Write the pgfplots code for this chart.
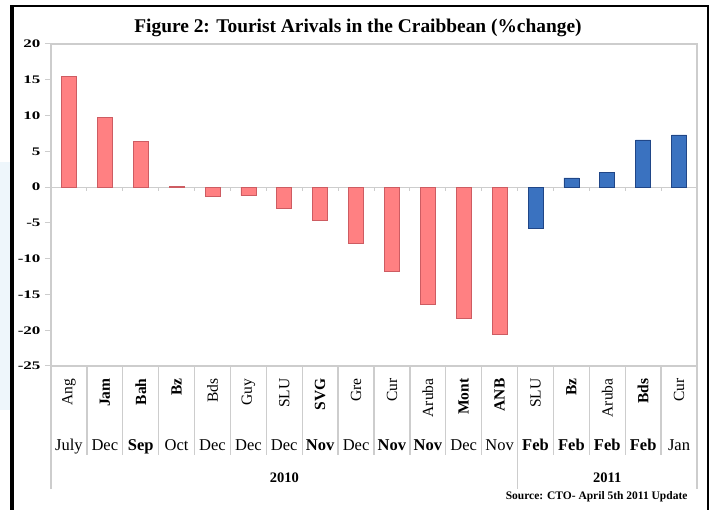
\documentclass[border=0pt]{standalone}
\usepackage{pgfplots}
\pgfplotsset{compat=1.18}
\usepackage{fontspec}
\setmainfont{Liberation Serif}
\definecolor{redfill}{RGB}{255,128,130}
\definecolor{reddraw}{RGB}{205,92,98}
\definecolor{bluefill}{RGB}{58,114,192}
\definecolor{bluedraw}{RGB}{32,70,135}
\definecolor{sepgray}{RGB}{205,205,205}
\definecolor{tint}{RGB}{238,246,251}
\begin{document}
\begin{tikzpicture}
\useasboundingbox (0pt,0pt) rectangle (710pt,510pt);
\fill[tint] (0pt,100pt) rectangle (10pt,348pt);
\fill[black] (10pt,0pt) rectangle (14pt,505pt);
\draw[black, line width=2pt] (11pt,504pt) -- (708pt,504pt) -- (708pt,0pt);
\node[anchor=base, font=\fontsize{19.4}{22}\selectfont\bfseries] at (358pt,477pt) {Figure 2: Tourist Arivals in the Craibbean (\%change)};
\node[anchor=base east, font=\fontsize{11.5}{13}\selectfont\bfseries] at (691pt,10pt) {Source: CTO- April 5th 2011 Update};
\begin{axis}[
  at={(51pt,144pt)}, anchor=south west, scale only axis,
  width=646pt, height=322pt,
  xmin=-0.5, xmax=17.5, ymin=-25, ymax=20,
  ytick={-25,-20,...,20}, xtick=\empty,
  ytick pos=left, tick align=outside,
  major tick length=6pt,
  tick style={draw=sepgray, line width=1pt},
  axis line style={draw=sepgray, line width=1.2pt},
  clip=false,
  /pgf/number format/assume math mode=true,
  yticklabel style={font=\fontsize{17}{19}\selectfont\bfseries, xshift=-1pt},
  yticklabel={\scalebox{1}[0.68]{\pgfmathprintnumber{\tick}}},
]
\draw[sepgray, line width=1.2pt] (axis cs:-0.5,0) -- (axis cs:17.5,0);
\pgfplotsinvokeforeach{-0.5,0.5,1.5,2.5,3.5,4.5,5.5,6.5,7.5,8.5,9.5,10.5,11.5,12.5,13.5,14.5,15.5,16.5,17.5}{
  \draw[sepgray, line width=1pt] (axis cs:#1,0) -- (axis cs:#1,-0.56);
  \draw[sepgray, line width=1.3pt] (axis cs:#1,-25) -- (axis cs:#1,-37.44);
}
\pgfplotsinvokeforeach{-0.5,12.5,17.5}{
  \draw[sepgray, line width=1.3pt] (axis cs:#1,-25) -- (axis cs:#1,-42.19);
}
\addplot[ybar, bar width=15pt, bar shift=0pt, draw=reddraw, fill=redfill, line width=0.6pt]
  coordinates {(0,15.5) (1,9.7) (2,6.4) (3,0.1) (4,-1.25) (5,-1.2) (6,-2.95) (7,-4.7) (8,-7.9) (9,-11.8) (10,-16.4) (11,-18.3) (12,-20.6)};
\addplot[ybar, bar width=15pt, bar shift=0pt, draw=bluedraw, fill=bluefill, line width=0.6pt]
  coordinates {(13,-5.7) (14,1.3) (15,2.0) (16,6.6) (17,7.3)};
% category labels
\tikzset{cl/.style={rotate=90, anchor=east, font=\fontsize{15.5}{17}\selectfont}}
\node[cl] at ([yshift=-9pt]axis cs:0,-25) {Ang};
\node[cl] at ([yshift=-9pt]axis cs:1,-25) {\bfseries Jam};
\node[cl] at ([yshift=-9pt]axis cs:2,-25) {\bfseries Bah};
\node[cl] at ([yshift=-9pt]axis cs:3,-25) {\bfseries Bz};
\node[cl] at ([yshift=-9pt]axis cs:4,-25) {Bds};
\node[cl] at ([yshift=-9pt]axis cs:5,-25) {Guy};
\node[cl] at ([yshift=-9pt]axis cs:6,-25) {SLU};
\node[cl] at ([yshift=-9pt]axis cs:7,-25) {\bfseries SVG};
\node[cl] at ([yshift=-9pt]axis cs:8,-25) {Gre};
\node[cl] at ([yshift=-9pt]axis cs:9,-25) {Cur};
\node[cl] at ([yshift=-9pt]axis cs:10,-25) {Aruba};
\node[cl] at ([yshift=-9pt]axis cs:11,-25) {\bfseries Mont};
\node[cl] at ([yshift=-9pt]axis cs:12,-25) {\bfseries ANB};
\node[cl] at ([yshift=-9pt]axis cs:13,-25) {SLU};
\node[cl] at ([yshift=-9pt]axis cs:14,-25) {\bfseries Bz};
\node[cl] at ([yshift=-9pt]axis cs:15,-25) {Aruba};
\node[cl] at ([yshift=-9pt]axis cs:16,-25) {\bfseries Bds};
\node[cl] at ([yshift=-9pt]axis cs:17,-25) {Cur};
% months
\tikzset{ml/.style={anchor=base, font=\fontsize{16.5}{18}\selectfont}}
\node[ml] at ([yshift=-85pt]axis cs:0,-25) {July};
\node[ml] at ([yshift=-85pt]axis cs:1,-25) {Dec};
\node[ml] at ([yshift=-85pt]axis cs:2,-25) {\bfseries Sep};
\node[ml] at ([yshift=-85pt]axis cs:3,-25) {Oct};
\node[ml] at ([yshift=-85pt]axis cs:4,-25) {Dec};
\node[ml] at ([yshift=-85pt]axis cs:5,-25) {Dec};
\node[ml] at ([yshift=-85pt]axis cs:6,-25) {Dec};
\node[ml] at ([yshift=-85pt]axis cs:7,-25) {\bfseries Nov};
\node[ml] at ([yshift=-85pt]axis cs:8,-25) {Dec};
\node[ml] at ([yshift=-85pt]axis cs:9,-25) {\bfseries Nov};
\node[ml] at ([yshift=-85pt]axis cs:10,-25) {\bfseries Nov};
\node[ml] at ([yshift=-85pt]axis cs:11,-25) {Dec};
\node[ml] at ([yshift=-85pt]axis cs:12,-25) {Nov};
\node[ml] at ([yshift=-85pt]axis cs:13,-25) {\bfseries Feb};
\node[ml] at ([yshift=-85pt]axis cs:14,-25) {\bfseries Feb};
\node[ml] at ([yshift=-85pt]axis cs:15,-25) {\bfseries Feb};
\node[ml] at ([yshift=-85pt]axis cs:16,-25) {\bfseries Feb};
\node[ml] at ([yshift=-85pt]axis cs:17,-25) {Jan};
% years
\node[anchor=base, font=\fontsize{14.5}{17}\selectfont\bfseries] at ([yshift=-117pt]axis cs:6,-25) {2010};
\node[anchor=base, font=\fontsize{14.5}{17}\selectfont\bfseries] at ([yshift=-117pt]axis cs:15,-25) {2011};
\end{axis}
\end{tikzpicture}
\end{document}
